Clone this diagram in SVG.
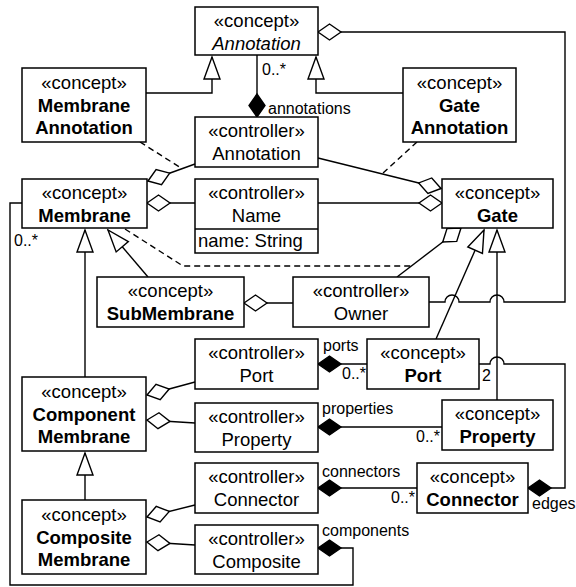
<svg xmlns="http://www.w3.org/2000/svg" width="576" height="587" viewBox="0 0 576 587">
<style>
.box{fill:#fff;stroke:#000;stroke-width:1.5}
.t{font-family:"Liberation Sans",Arial,Helvetica,sans-serif;font-size:18.5px;text-anchor:middle;fill:#000}
.b{font-weight:bold}
.i{font-style:italic}
.lbl{font-family:"Liberation Sans",Arial,Helvetica,sans-serif;font-size:16px;fill:#000}
.ln{fill:none;stroke:#000;stroke-width:1.4}
.dash{stroke-dasharray:6 4}
.od{marker-start:url(#od)}
.fd{marker-start:url(#fd)}
.gen{marker-end:url(#tri)}
</style>
<defs>
<marker id="od" markerUnits="userSpaceOnUse" markerWidth="24" markerHeight="18" refX="0" refY="0" orient="auto" style="overflow:visible"><path d="M0,0 L11.5,-8 L23,0 L11.5,8 Z" fill="#fff" stroke="#000" stroke-width="1.4"/></marker>
<marker id="fd" markerUnits="userSpaceOnUse" markerWidth="24" markerHeight="18" refX="0" refY="0" orient="auto" style="overflow:visible"><path d="M0,0 L11.5,-8 L23,0 L11.5,8 Z" fill="#000" stroke="#000" stroke-width="1.4"/></marker>
<marker id="tri" markerUnits="userSpaceOnUse" markerWidth="24" markerHeight="18" refX="0" refY="0" orient="auto" style="overflow:visible"><path d="M0,0 L-22,-8 L-22,8 Z" fill="#fff" stroke="#000" stroke-width="1.4"/></marker>
</defs>
<g id="connectors">
<path class="ln gen" d="M146,93 H212 V57"/>
<path class="ln gen" d="M403,93 H316 V57"/>
<path class="ln fd" d="M257,117 V55"/>
<path class="ln od" d="M318,32 H565 V302 H504 A7,7 0 0 0 490,302 H459 A7,7 0 0 0 445,302 H429"/>
<path class="ln od" d="M148,181 L195,164"/>
<path class="ln od" d="M441,188.5 L318,158"/>
<path class="ln dash" d="M140,142 L181,168"/>
<path class="ln dash" d="M417,142 L382,174"/>
<path class="ln od" d="M147,203 H195"/>
<path class="ln od" d="M442,203 H318"/>
<path class="ln dash" d="M125,229 L183,266 H411"/>
<path class="ln od" d="M461,228 L397,277"/>
<path class="ln od" d="M244,303 H293"/>
<path class="ln gen" d="M148,277 L108,230"/>
<path class="ln gen" d="M85,377 V230"/>
<path class="ln gen" d="M85,500 V453"/>
<path class="ln gen" d="M436,339 L484,230"/>
<path class="ln gen" d="M497,400 V230"/>
<path class="ln od" d="M147,395 L195,382"/>
<path class="ln od" d="M147,420 L195,423"/>
<path class="ln od" d="M147,517 L195,505"/>
<path class="ln od" d="M147,542 L195,545"/>
<path class="ln fd" d="M318,364 H367"/>
<path class="ln fd" d="M318,427 H442"/>
<path class="ln fd" d="M318,488 H417"/>
<path class="ln fd" d="M318,548 H353 V585 H10 V203 H22"/>
<path class="ln fd" d="M528,488 H565 V364 H504 A7,7 0 0 0 490,364 H479"/>
<text class="lbl" x="262" y="75">0..*</text>
<text class="lbl" x="268" y="114">annotations</text>
<text class="lbl" x="14" y="246">0..*</text>
<text class="lbl" x="323" y="351">ports</text>
<text class="lbl" x="342" y="379">0..*</text>
<text class="lbl" x="482" y="381">2</text>
<text class="lbl" x="322" y="414">properties</text>
<text class="lbl" x="416" y="442">0..*</text>
<text class="lbl" x="322" y="477">connectors</text>
<text class="lbl" x="391" y="503">0..*</text>
<text class="lbl" x="532" y="509">edges</text>
<text class="lbl" x="322" y="536">components</text>
</g>
<g id="AnnotationConcept"><rect class="box" x="195" y="7" width="123" height="48"/><text class="t" x="256.5" y="27">«concept»</text><text class="t i" x="256.5" y="49.5">Annotation</text></g>
<g id="MembraneAnnotation"><rect class="box" x="22" y="68" width="124" height="74"/><text class="t" x="84" y="89">«concept»</text><text class="t b" x="84" y="111.5">Membrane</text><text class="t b" x="84" y="134">Annotation</text></g>
<g id="GateAnnotation"><rect class="box" x="403" y="68" width="113" height="74"/><text class="t" x="459.5" y="89">«concept»</text><text class="t b" x="459.5" y="111.5">Gate</text><text class="t b" x="459.5" y="134">Annotation</text></g>
<g id="AnnotationController"><rect class="box" x="195" y="117" width="123" height="50"/><text class="t" x="256.5" y="137.25">«controller»</text><text class="t" x="256.5" y="159.75">Annotation</text></g>
<g id="Membrane"><rect class="box" x="22" y="179" width="125" height="49"/><text class="t" x="84.5" y="199">«concept»</text><text class="t b" x="84.5" y="221.5">Membrane</text></g>
<g id="NameController"><rect class="box" x="195" y="179" width="123" height="74"/><line x1="195" y1="229" x2="318" y2="229" stroke="#000" stroke-width="1.4"/><text class="t" x="256.5" y="199">«controller»</text><text class="t" x="256.5" y="221.5">Name</text><text class="t" x="198" y="247" style="text-anchor:start">name: String</text></g>
<g id="Gate"><rect class="box" x="442" y="179" width="111" height="49"/><text class="t" x="497.5" y="199">«concept»</text><text class="t b" x="497.5" y="221.5">Gate</text></g>
<g id="SubMembrane"><rect class="box" x="97" y="277" width="147" height="50"/><text class="t" x="170.5" y="297.25">«concept»</text><text class="t b" x="170.5" y="319.75">SubMembrane</text></g>
<g id="OwnerController"><rect class="box" x="293" y="277" width="136" height="50"/><text class="t" x="361" y="297.25">«controller»</text><text class="t" x="361" y="319.75">Owner</text></g>
<g id="PortController"><rect class="box" x="195" y="339" width="123" height="50"/><text class="t" x="256.5" y="359.25">«controller»</text><text class="t" x="256.5" y="381.75">Port</text></g>
<g id="Port"><rect class="box" x="367" y="339" width="112" height="50"/><text class="t" x="423" y="359.25">«concept»</text><text class="t b" x="423" y="381.75">Port</text></g>
<g id="ComponentMembrane"><rect class="box" x="22" y="377" width="124" height="74"/><text class="t" x="84" y="398">«concept»</text><text class="t b" x="84" y="420.5">Component</text><text class="t b" x="84" y="443">Membrane</text></g>
<g id="PropertyController"><rect class="box" x="195" y="403" width="123" height="49"/><text class="t" x="256.5" y="423">«controller»</text><text class="t" x="256.5" y="445.5">Property</text></g>
<g id="Property"><rect class="box" x="442" y="400" width="111" height="50"/><text class="t" x="497.5" y="420.25">«concept»</text><text class="t b" x="497.5" y="442.75">Property</text></g>
<g id="ConnectorController"><rect class="box" x="195" y="463" width="123" height="50"/><text class="t" x="256.5" y="483.25">«controller»</text><text class="t" x="256.5" y="505.75">Connector</text></g>
<g id="Connector"><rect class="box" x="417" y="463" width="111" height="50"/><text class="t" x="472.5" y="483.25">«concept»</text><text class="t b" x="472.5" y="505.75">Connector</text></g>
<g id="CompositeMembrane"><rect class="box" x="22" y="500" width="124" height="74"/><text class="t" x="84" y="521">«concept»</text><text class="t b" x="84" y="543.5">Composite</text><text class="t b" x="84" y="566">Membrane</text></g>
<g id="CompositeController"><rect class="box" x="195" y="525" width="123" height="49"/><text class="t" x="256.5" y="545">«controller»</text><text class="t" x="256.5" y="567.5">Composite</text></g>
</svg>
